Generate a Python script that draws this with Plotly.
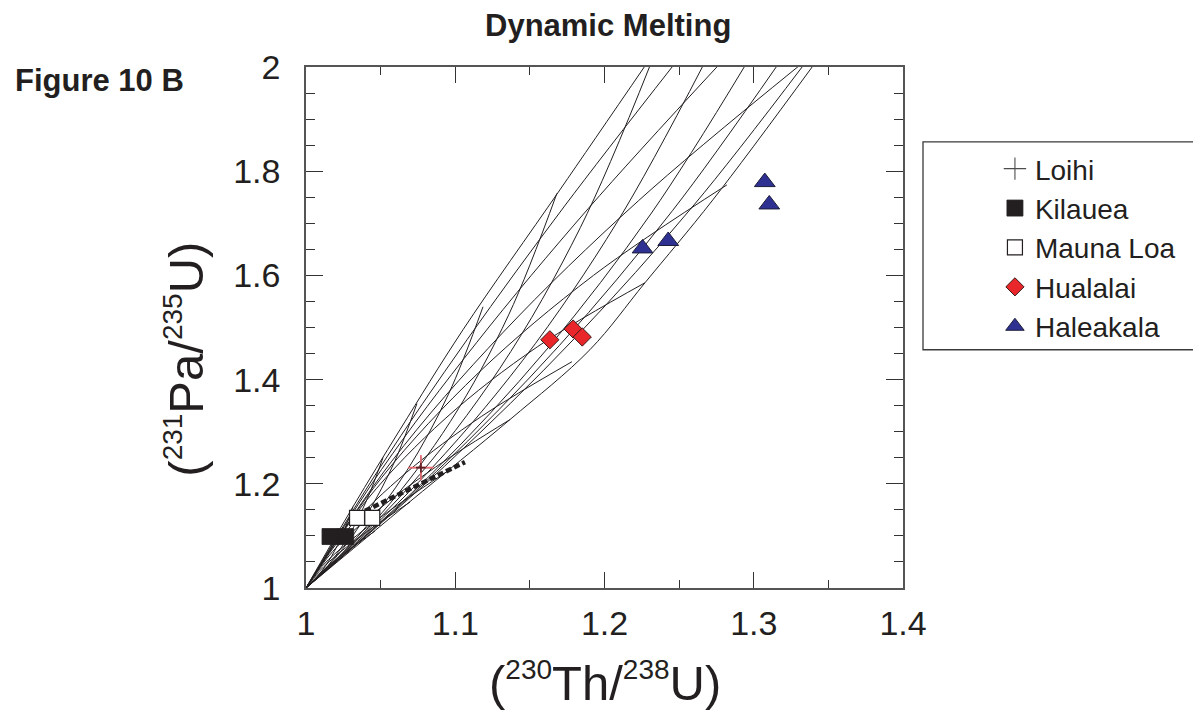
import plotly.graph_objects as go

TEXT = "#231f20"
FONT = "Liberation Sans, Arial, Helvetica, sans-serif"
MESH = "#231f20"

# ---------------- model grid ----------------
left_env_x = [1.0, 1.0315, 1.063, 1.1052, 1.1701, 1.2271]
left_env_y = [1.0, 1.156, 1.304, 1.4957, 1.7641, 2.0019]
right_env_x = [1.0, 1.0697, 1.1366, 1.1902, 1.2271, 1.2726, 1.3396]
right_env_y = [1.0, 1.1659, 1.3231, 1.4573, 1.5858, 1.745, 2.0019]

# family A: leave along the right edge, bend upward
famA_x = [
    [1.0, 1.0929, 1.1800, 1.2600, 1.3329],
    [1.0, 1.0873, 1.1697, 1.2457, 1.3155],
    [1.0, 1.0839, 1.1615, 1.2315, 1.2940],
    [1.0, 1.0752, 1.1453, 1.2088, 1.2659],
    [1.0, 1.0680, 1.1299, 1.1839, 1.2304],
    [1.0, 1.0510, 1.0968, 1.1358, 1.1681],
    [1.0, 1.0356, 1.0678, 1.0955, 1.1186],
    [1.0, 1.0212, 1.0412, 1.0590, 1.0743],
    [1.0, 1.0148, 1.0284, 1.0406, 1.0516],
    [1.0, 1.0088, 1.0171, 1.0246, 1.0315],
]
famA_y = [
    [1.0, 1.2339, 1.4793, 1.7354, 2.0019],
    [1.0, 1.2234, 1.4653, 1.7248, 2.0019],
    [1.0, 1.2184, 1.4586, 1.7198, 2.0019],
    [1.0, 1.2025, 1.4373, 1.7039, 2.0019],
    [1.0, 1.1908, 1.4217, 1.6922, 2.0019],
    [1.0, 1.1446, 1.3198, 1.5243, 1.7574],
    [1.0, 1.1018, 1.2262, 1.3722, 1.5398],
    [1.0, 1.0628, 1.1432, 1.2402, 1.3538],
    [1.0, 1.0431, 1.0991, 1.1682, 1.2502],
    [1.0, 1.0261, 1.0608, 1.1041, 1.1563],
]
# family B: leave along the left edge, bend to the right
famB_x = [
    [1.0, 1.0497, 1.1079, 1.1733, 1.2458],
    [1.0, 1.0506, 1.1142, 1.1893, 1.2759],
    [1.0, 1.0571, 1.1318, 1.2228, 1.3302],
    [1.0, 1.0509, 1.1156, 1.1926, 1.2820],
    [1.0, 1.0411, 1.0932, 1.1553, 1.2271],
    [1.0, 1.0277, 1.0673, 1.1175, 1.1782],
    [1.0, 1.0179, 1.0474, 1.0869, 1.1366],
    [1.0, 1.0107, 1.0310, 1.0596, 1.0964],
    [1.0, 1.0088, 1.0234, 1.0437, 1.0697],
    [1.0, 1.0051, 1.0146, 1.0282, 1.0462],
]
famB_y = [
    [1.0, 1.2318, 1.4765, 1.7333, 2.0019],
    [1.0, 1.2274, 1.4707, 1.7289, 2.0019],
    [1.0, 1.2420, 1.4899, 1.7434, 2.0019],
    [1.0, 1.2127, 1.4131, 1.6000, 1.7737],
    [1.0, 1.1701, 1.3249, 1.4635, 1.5858],
    [1.0, 1.1116, 1.2217, 1.3292, 1.4343],
    [1.0, 1.0702, 1.1479, 1.2323, 1.3231],
    [1.0, 1.0416, 1.0939, 1.1557, 1.2272],
    [1.0, 1.0318, 1.0699, 1.1141, 1.1649],
    [1.0, 1.0176, 1.0417, 1.0721, 1.1093],
]
# dotted path
dotted_x = [1.0342, 1.0700, 1.1065]
dotted_y = [1.1405, 1.1910, 1.2416]

# ---------------- samples ----------------
loihi_x = [1.077]
loihi_y = [1.231]
kilauea_x = [1.0161, 1.0266]
kilauea_y = [1.0988, 1.0988]
maunaloa_x = [1.0342, 1.0444]
maunaloa_y = [1.1346, 1.1346]
hualalai_x = [1.1634, 1.1790, 1.1851]
hualalai_y = [1.4765, 1.4970, 1.4817]
haleakala_x = [1.2255, 1.2427, 1.3074, 1.3104]
haleakala_y = [1.6518, 1.6660, 1.7791, 1.7362]

fig = go.Figure()

mesh_line = dict(color=MESH, width=1.0, shape="spline", smoothing=1.0)
for xs, ys in [(left_env_x, left_env_y), (right_env_x, right_env_y)] + \
        list(zip(famA_x, famA_y)) + list(zip(famB_x, famB_y)):
    fig.add_trace(go.Scatter(x=xs, y=ys, mode="lines", line=mesh_line,
                             showlegend=False, hoverinfo="skip"))

fig.add_trace(go.Scatter(x=dotted_x, y=dotted_y, mode="lines",
                         line=dict(color=TEXT, width=4.5, dash="6px,3px"),
                         showlegend=False, hoverinfo="skip"))

# Loihi (legend shows a grey cross; plot shows a red cross)
fig.add_trace(go.Scatter(x=loihi_x, y=loihi_y, mode="markers", name="Loihi",
                         marker=dict(symbol="cross-thin", size=16,
                                     line=dict(color="#4d4d4f", width=1.1))))
fig.add_trace(go.Scatter(x=loihi_x, y=loihi_y, mode="markers", showlegend=False,
                         marker=dict(symbol="cross-thin", size=18,
                                     line=dict(color="#ec6a70", width=1.6))))
fig.add_trace(go.Scatter(x=loihi_x, y=loihi_y, mode="markers", showlegend=False,
                         marker=dict(symbol="cross-thin", size=7,
                                     line=dict(color="#5b1f22", width=1.6))))

fig.add_trace(go.Scatter(x=kilauea_x, y=kilauea_y, mode="markers", name="Kilauea",
                         marker=dict(symbol="square", size=16, color=TEXT,
                                     line=dict(color=TEXT, width=0.8))))
fig.add_trace(go.Scatter(x=maunaloa_x, y=maunaloa_y, mode="markers", name="Mauna Loa",
                         marker=dict(symbol="square", size=15, color="white",
                                     line=dict(color=TEXT, width=1.2))))
fig.add_trace(go.Scatter(x=hualalai_x, y=hualalai_y, mode="markers", name="Hualalai",
                         marker=dict(symbol="diamond", size=14, color="#e9262a",
                                     line=dict(color="#3a1a1a", width=1))))
fig.add_trace(go.Scatter(x=haleakala_x, y=haleakala_y, mode="markers", name="Haleakala",
                         marker=dict(symbol="triangle-up", size=18, color="#2e3192",
                                     line=dict(color="#1d1d3a", width=1))))

axis_common = dict(
    ticks="inside", tickwidth=1.3, tickcolor="#333333",
    showline=True, linecolor="#555555", linewidth=1.6, mirror="ticks",
    showgrid=False, zeroline=False,
    tickfont=dict(size=34, color=TEXT, family=FONT),
)
fig.update_xaxes(range=[1, 1.4], tick0=1, dtick=0.1, ticklen=16,
                 ticklabelstandoff=4,
                 minor=dict(tick0=1, dtick=0.05, ticks="inside", ticklen=8,
                            tickwidth=1.3, tickcolor="#333333", showgrid=False),
                 **axis_common)
fig.update_yaxes(range=[1, 2], tick0=1, dtick=0.2, ticklen=17,
                 ticklabelstandoff=17,
                 minor=dict(tick0=1, dtick=0.05, ticks="inside", ticklen=9,
                            tickwidth=1.3, tickcolor="#333333", showgrid=False),
                 **axis_common)

sup = lambda s: "<sup><span style='font-size:28px'>%s</span></sup>" % s

fig.update_layout(
    width=1193, height=715,
    margin=dict(l=306, r=290, t=67, b=127, pad=0),
    plot_bgcolor="white", paper_bgcolor="white",
    font=dict(family=FONT, color=TEXT),
    legend=dict(x=1.154, y=0.8523, xanchor="left", yanchor="top",
                font=dict(size=28, color=TEXT, family=FONT),
                bgcolor="rgba(0,0,0,0)", borderwidth=0, itemsizing="trace"),
    shapes=[dict(type="rect", xref="paper", yref="paper",
                 x0=1.0335, x1=1.6, y0=0.4573, y1=0.8562,
                 line=dict(color="#3a3a3a", width=1.3))],
    annotations=[
        dict(text="<b>Dynamic Melting</b>", xref="paper", yref="paper",
             x=0.506, y=1.0805, xanchor="center", yanchor="middle",
             showarrow=False, font=dict(size=31, color=TEXT, family=FONT)),
        dict(text="<b>Figure 10 B</b>", xref="paper", yref="paper",
             x=-0.4908, y=0.9732, xanchor="left", yanchor="middle",
             showarrow=False, font=dict(size=31, color=TEXT, family=FONT)),
        dict(text="(" + sup("230") + "Th/" + sup("238") + "U)",
             xref="paper", yref="paper", x=0.5008, y=-0.1812,
             xanchor="center", yanchor="middle", showarrow=False,
             font=dict(size=49, color=TEXT, family=FONT)),
        dict(text="(" + sup("231") + "Pa/" + sup("235") + "U)",
             xref="paper", yref="paper", x=-0.2027, y=0.4401, textangle=-90,
             xanchor="center", yanchor="middle", showarrow=False,
             font=dict(size=49, color=TEXT, family=FONT)),
    ],
)

fig.write_html("out.html")
